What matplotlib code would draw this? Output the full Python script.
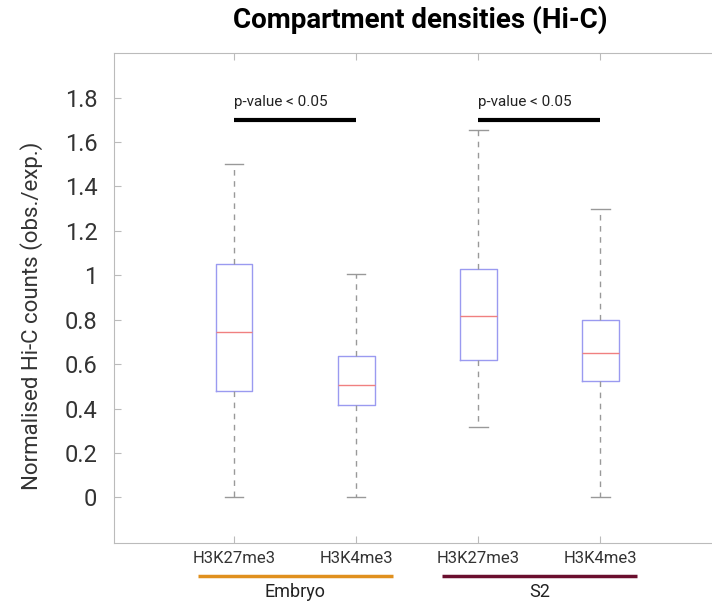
import matplotlib.pyplot as plt
from matplotlib.ticker import FormatStrFormatter

plt.rcParams['font.family'] = ['Roboto', 'DejaVu Sans']

# box statistics
labels = ['H3K27me3', 'H3K4me3', 'H3K27me3', 'H3K4me3']
whis_lo = [0.0, 0.0, 0.315, 0.0]
q1 = [0.478, 0.414, 0.617, 0.522]
med = [0.744, 0.504, 0.819, 0.652]
q3 = [1.049, 0.636, 1.03, 0.80]
whis_hi = [1.50, 1.004, 1.652, 1.30]

groups = ['Embryo', 'S2']
group_colors = ['#e0901e', '#6a0e2e']
sig_pairs = [(1, 2), (3, 4)]
sig_text = 'p-value < 0.05'
sig_y = 1.70

stats = []
for i in range(len(labels)):
    stats.append(dict(label=labels[i], whislo=whis_lo[i], q1=q1[i], med=med[i],
                      q3=q3[i], whishi=whis_hi[i], fliers=[]))

fig = plt.figure(figsize=(7.12, 6.04), dpi=100)
ax = fig.add_axes([0.1601, 0.101, 0.853, 0.811])

pos = list(range(1, len(labels) + 1))
ax.bxp(stats, positions=pos, widths=0.3, showfliers=False,
       boxprops=dict(color='#9a9af0', linewidth=1),
       medianprops=dict(color='#f08080', linewidth=1),
       whiskerprops=dict(color='#999999', linewidth=1, linestyle=(0, (4, 4))),
       capprops=dict(color='#999999', linewidth=1))

ax.set_xlim(0.016, 4.99)
ax.set_ylim(-0.205, 2.0)
ax.set_yticks([0, 0.2, 0.4, 0.6, 0.8, 1, 1.2, 1.4, 1.6, 1.8])
ax.yaxis.set_major_formatter(FormatStrFormatter('%g'))
ax.set_xticks(pos)
ax.set_xticklabels(labels, fontsize=12, color='#333333')
ax.tick_params(axis='x', direction='in', top=True, length=5, color='#bbbbbb', pad=6)
ax.tick_params(axis='y', direction='in', length=5, color='#bbbbbb', labelsize=17,
               labelcolor='#333333', pad=12)
for s in ax.spines.values():
    s.set_color('#bbbbbb')
ax.spines['right'].set_visible(False)

ax.set_ylabel('Normalised Hi-C counts (obs./exp.)', fontsize=16, color='#333333')
ax.yaxis.set_label_coords(-0.117, 0.463)
fig.suptitle('Compartment densities (Hi-C)', fontsize=20, fontweight='bold',
             x=0.59, y=0.99)

# significance bars
for a, b in sig_pairs:
    ax.plot([a, b], [sig_y, sig_y], color='black', linewidth=3, solid_capstyle='butt')
    ax.text(a, sig_y + 0.08, sig_text, fontsize=11, color='#222222',
            ha='left', va='center')

# group underlines and names
xt = ax.get_xaxis_transform()
for g in range(len(groups)):
    a = pos[2 * g] - 0.3
    b = pos[2 * g + 1] + 0.3
    ax.plot([a, b], [-0.067, -0.067], transform=xt, color=group_colors[g], lw=2.5,
            solid_capstyle='butt', clip_on=False)
    ax.text((a + b) / 2, -0.1, groups[g], transform=xt,
            ha='center', va='center', fontsize=13, color='#222222')

fig.savefig('out.png', dpi=100)
